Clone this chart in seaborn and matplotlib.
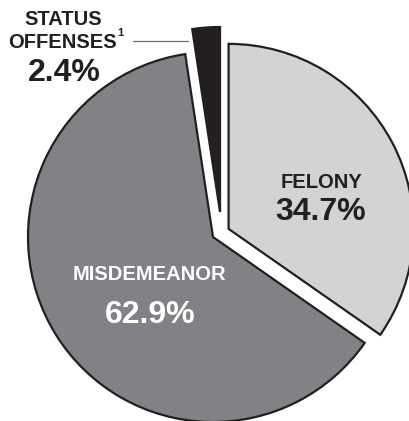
import matplotlib
matplotlib.use("Agg")
import matplotlib.pyplot as plt
import seaborn as sns

# shares of cases by offense type
categorias = ["FELONY", "MISDEMEANOR", "STATUS OFFENSES"]
percentuais = [34.7, 62.9, 2.4]
cores = ["#d1d3d4", "#808285", "#231f20"]
explodir = [0.095, 0.0, 0.0]

sns.set_theme(style="white")
plt.rcParams["font.family"] = ["Liberation Sans", "DejaVu Sans"]

fig = plt.figure(figsize=(4.10, 4.21), dpi=100)
ax = fig.add_axes([0, 0, 1, 1])

fatias, _ = ax.pie(percentuais, colors=cores, explode=explodir, startangle=90,
                   counterclock=False, radius=1.0,
                   wedgeprops=dict(edgecolor="#231f20", linewidth=1.6))
# a fatia pequena sai um pouco para cima e para a direita
fatias[2].set_center((0.038, 0.135))

ax.set_xlim(-213 / 185, 197 / 185)
ax.set_ylim(-184 / 185, 237 / 185)
ax.set_aspect("auto")
ax.axis("off")

escuro = "#231f20"

# rótulos das fatias
ax.text(0.584, 0.292, categorias[0], ha="center", va="center",
        fontsize=14.5, fontweight="bold", color=escuro)
ax.text(0.584, 0.135, f"{percentuais[0]}%", ha="center", va="center",
        fontsize=23, fontweight="bold", color=escuro)

ax.text(-0.341, -0.205, categorias[1], ha="center", va="center",
        fontsize=14.5, fontweight="bold", color="white")
ax.text(-0.341, -0.42, f"{percentuais[1]}%", ha="center", va="center",
        fontsize=23, fontweight="bold", color="white")

ax.text(-0.811, 1.173, "STATUS", ha="center", va="center",
        fontsize=14.5, fontweight="bold", color=escuro)
ax.text(-0.816, 1.054, "OFFENSES", ha="center", va="center",
        fontsize=14.5, fontweight="bold", color=escuro)
ax.text(-0.52, 1.10, "1", ha="left", va="center",
        fontsize=8, fontweight="bold", color=escuro)
ax.text(-0.805, 0.886, f"{percentuais[2]}%", ha="center", va="center",
        fontsize=23, fontweight="bold", color=escuro)
ax.plot([-0.432, -0.135], [1.059, 1.059], color="#6d6e71", linewidth=0.9)

plt.savefig("out.png", dpi=100)
